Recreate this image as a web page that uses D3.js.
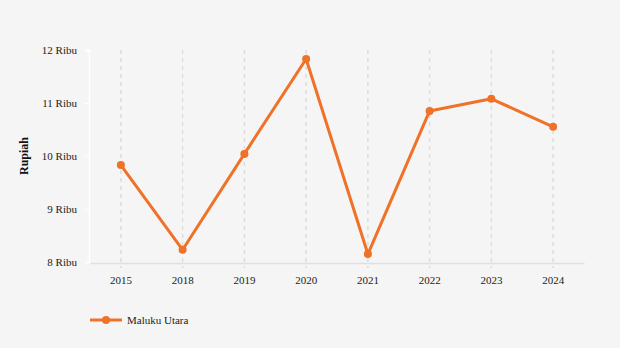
<!DOCTYPE html>
<html>
<head>
<meta charset="utf-8">
<script src="https://cdn.jsdelivr.net/npm/d3@7"></script>
<style>
  body { margin: 0; background: #f5f5f5; }
  svg, svg text { font-family: "Liberation Serif", "Times New Roman", serif !important; }
  svg { display: block; }
</style>
</head>
<body>
<script>
const years = ['2015', '2018', '2019', '2020', '2021', '2022', '2023', '2024'];
const values = [9830, 8230, 10040, 11830, 8150, 10850, 11080, 10550];
const yTicks = [8000, 9000, 10000, 11000, 12000];
const seriesName = 'Maluku Utara';

const W = 620, H = 348;
const margin = { top: 50, right: 36, bottom: 86, left: 90 };
const color = '#f07128';

const svg = d3.select('body').append('svg')
  .attr('width', W)
  .attr('height', H);

svg.append('rect').attr('width', W).attr('height', H).attr('fill', '#f5f5f5');

const x = d3.scaleBand()
  .domain(years)
  .range([margin.left, W - margin.right]);

const y = d3.scaleLinear()
  .domain([8000, 12000])
  .range([H - margin.bottom, margin.top]);

// vertical dashed grid
svg.append('g')
  .selectAll('line')
  .data(years)
  .enter().append('line')
  .attr('x1', d => x(d) + x.bandwidth() / 2)
  .attr('x2', d => x(d) + x.bandwidth() / 2)
  .attr('y1', margin.top)
  .attr('y2', H - margin.bottom + 6)
  .attr('stroke', '#dcdcdc')
  .attr('stroke-width', 1.5)
  .attr('stroke-dasharray', '4,4');

// x axis
let xAxis = svg.append('g')
  .attr('transform', `translate(0,${H - margin.bottom + 1})`)
  .call(d3.axisBottom(x).tickSize(0).tickPadding(13));
xAxis.attr('font-family', null);
xAxis.select('.domain').attr('stroke', '#e0e0e0').attr('stroke-width', 1.5);
xAxis.selectAll('text').attr('font-size', 11).attr('fill', '#222');

// y axis
let yAxis = svg.append('g')
  .attr('transform', `translate(${margin.left - 1},0)`)
  .call(d3.axisLeft(y).tickValues(yTicks).tickSize(4).tickPadding(8)
    .tickFormat(d => (d / 1000) + ' Ribu'));
yAxis.attr('font-family', null);
yAxis.select('.domain').attr('stroke', '#ffffff').attr('stroke-width', 1.5);
yAxis.selectAll('.tick line').attr('stroke', '#ffffff').attr('stroke-width', 1.5);
yAxis.selectAll('text').attr('font-size', 11).attr('fill', '#222');

svg.append('text')
  .attr('transform', `translate(28,${(margin.top + H - margin.bottom) / 2}) rotate(-90)`)
  .attr('text-anchor', 'middle')
  .attr('font-size', 12)
  .attr('font-weight', 'bold')
  .attr('fill', '#111')
  .text('Rupiah');

const cx = (d, i) => x(years[i]) + x.bandwidth() / 2;

const line = d3.line()
  .x((d, i) => cx(d, i))
  .y(d => y(d));

svg.append('path')
  .datum(values)
  .attr('d', line)
  .attr('fill', 'none')
  .attr('stroke', color)
  .attr('stroke-width', 3)
  .attr('stroke-linejoin', 'round');

svg.append('g')
  .selectAll('circle')
  .data(values)
  .enter().append('circle')
  .attr('cx', cx)
  .attr('cy', d => y(d))
  .attr('r', 4)
  .attr('fill', color);

// legend
let legend = svg.append('g').attr('transform', 'translate(90,320)');
legend.append('line')
  .attr('x1', 0).attr('x2', 32)
  .attr('stroke', color).attr('stroke-width', 3);
legend.append('circle').attr('cx', 16).attr('r', 4).attr('fill', color);
legend.append('text')
  .attr('x', 37).attr('y', 4)
  .attr('font-size', 11)
  .attr('fill', '#222')
  .text(seriesName);
</script>
</body>
</html>
